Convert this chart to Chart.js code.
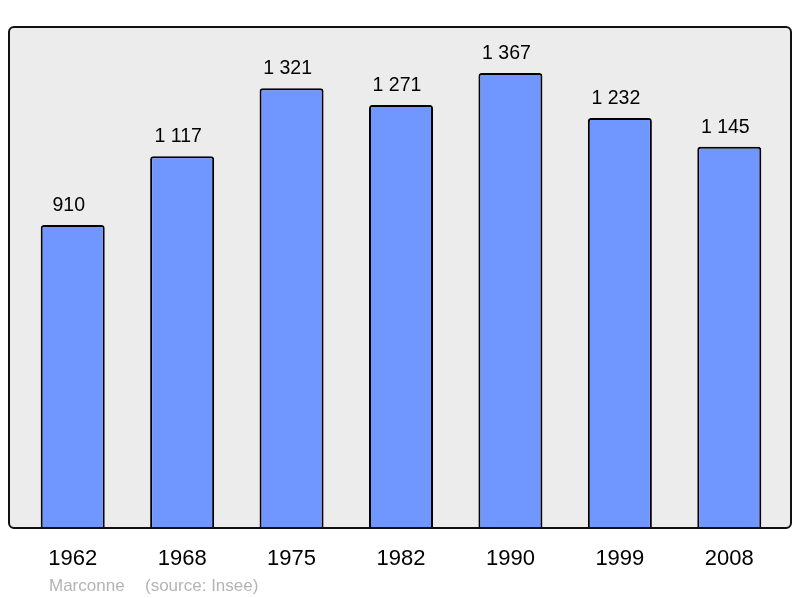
<!DOCTYPE html>
<html>
<head>
<meta charset="utf-8">
<script src="https://cdn.jsdelivr.net/npm/chart.js@4/dist/chart.umd.min.js"></script>
<style>
  html, body { margin: 0; padding: 0; background: #fff; }
  canvas { display: block; }
</style>
</head>
<body>
<canvas id="myChart" width="800" height="598"></canvas>
<script>
const years = ['1962', '1968', '1975', '1982', '1990', '1999', '2008'];
const population = [910, 1117, 1321, 1271, 1367, 1232, 1145];
const valueLabels = ['910', '1 117', '1 321', '1 271', '1 367', '1 232', '1 145'];
const footerText = ['Marconne', '(source: Insee)'];

// grey framed panel behind the bars, plus labels drawn from the scales
const panelPlugin = {
  id: 'panel',
  beforeDraw(chart) {
    const ctx = chart.ctx;
    const a = chart.chartArea;
    const x0 = a.left - 9, x1 = a.right + 7, y0 = a.top, y1 = a.bottom;
    ctx.save();
    ctx.beginPath();
    ctx.roundRect(x0, y0, x1 - x0, y1 - y0, 5);
    ctx.fillStyle = '#ececec';
    ctx.fill();
    ctx.restore();
  },
  afterDatasetsDraw(chart) {
    const ctx = chart.ctx;
    const a = chart.chartArea;
    const x0 = a.left - 9, x1 = a.right + 7, y0 = a.top, y1 = a.bottom;
    ctx.save();
    ctx.beginPath();
    ctx.roundRect(x0, y0, x1 - x0, y1 - y0, 5);
    ctx.lineWidth = 2;
    ctx.strokeStyle = '#111';
    ctx.stroke();

    const xs = chart.scales.x, ys = chart.scales.y;
    ctx.fillStyle = '#000';
    ctx.textAlign = 'center';
    ctx.textBaseline = 'alphabetic';
    ctx.font = '19.5px "Liberation Sans", Arial, sans-serif';
    population.forEach((v, i) => {
      ctx.fillText(valueLabels[i], xs.getPixelForValue(i) - 4, ys.getPixelForValue(v) - 14);
    });
    ctx.font = '22px "Liberation Sans", Arial, sans-serif';
    years.forEach((y, i) => {
      ctx.fillText(y, xs.getPixelForValue(i), a.bottom + 37);
    });
    ctx.fillStyle = '#b4b4b4';
    ctx.font = '17px "Liberation Sans", Arial, sans-serif';
    ctx.textAlign = 'left';
    ctx.fillText(footerText[0], 49, 591);
    ctx.fillText(footerText[1], 145, 591);
    ctx.restore();
  }
};

new Chart(document.getElementById('myChart'), {
  type: 'bar',
  data: {
    labels: years,
    datasets: [{
      data: population,
      backgroundColor: '#7096ff',
      borderColor: '#000',
      borderWidth: 2,
      borderSkipped: 'bottom',
      borderRadius: 3,
      barPercentage: 0.585,
      categoryPercentage: 1
    }]
  },
  options: {
    responsive: false,
    animation: false,
    layout: { padding: { left: 18, right: 16, top: 27, bottom: 70 } },
    plugins: { legend: { display: false }, tooltip: { enabled: false } },
    scales: {
      x: { display: false },
      y: { display: false, min: 0, max: 1505 }
    }
  },
  plugins: [panelPlugin]
});
</script>
</body>
</html>
